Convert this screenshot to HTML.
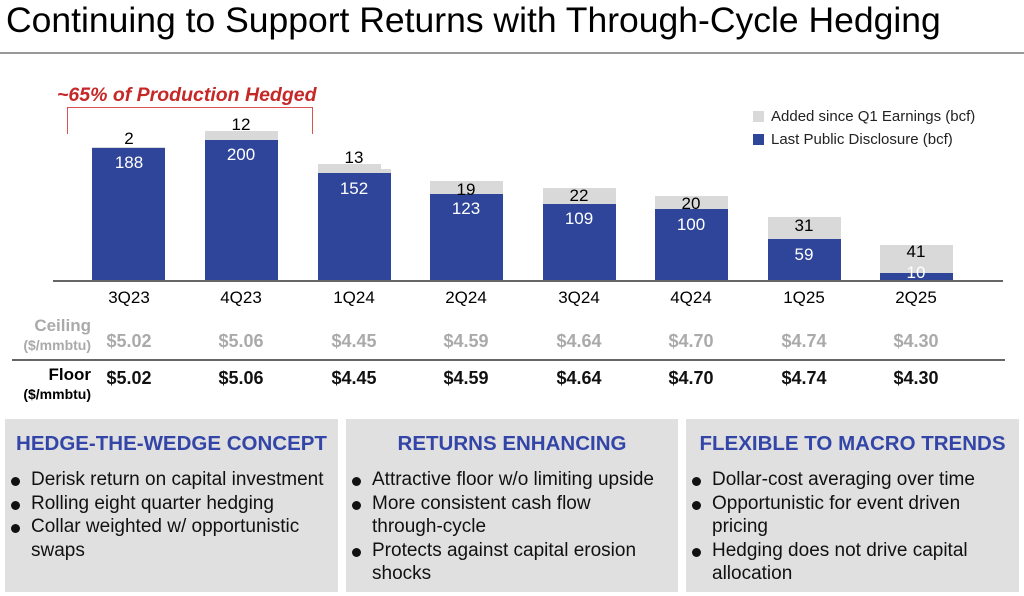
<!DOCTYPE html>
<html><head><meta charset="utf-8"><style>
body{margin:0;width:1024px;height:596px;background:#fff;font-family:"Liberation Sans",sans-serif;position:relative;overflow:hidden}
.a{position:absolute}
.bar{position:absolute;width:73px}
.b{background:#2f4599}.g{background:#d9d9d9}
.lab{position:absolute;width:100px;text-align:center;font-size:17px}
.box{position:absolute;top:419px;height:173px;background:#e0e0e0}
.box h3{margin:0;position:absolute;top:13px;left:0;right:0;text-align:center;color:#3346a8;font-size:20.5px;font-weight:bold;white-space:nowrap}
.box ul{position:absolute;top:49px;left:0;margin:0;padding:0 0 0 6px;list-style:none;font-size:19px;line-height:23.5px;color:#111}
.box li{padding-left:20px;position:relative}
.box li:before{content:"";position:absolute;left:0;top:9px;width:9px;height:9px;border-radius:50%;background:#111}
</style></head><body>
<div class="a" style="left:6px;top:0px;font-size:35.5px;white-space:nowrap">Continuing to Support Returns with Through-Cycle Hedging</div>
<div class="a" style="left:0;top:52px;width:1024px;height:1.5px;background:#999"></div>
<div class="a" style="left:57px;top:84px;font-size:19.5px;font-weight:bold;font-style:italic;color:#c62828">~65% of Production Hedged</div>
<div class="a" style="left:67px;top:107px;width:244px;height:26px;border:1.5px solid #d9534f;border-bottom:none"></div>
<div class="a" style="left:753px;top:111px;width:11px;height:11px;background:#d9d9d9"></div>
<div class="a" style="left:771px;top:108px;font-size:15px;color:#222">Added since Q1 Earnings (bcf)</div>
<div class="a" style="left:753px;top:134px;width:11px;height:11px;background:#2f4599"></div>
<div class="a" style="left:771px;top:131px;font-size:15px;color:#222">Last Public Disclosure (bcf)</div>
<div class="a" style="left:53px;top:280px;width:950px;height:1.5px;background:#666"></div>

<div class="bar g" style="left:92px;top:147px;height:1px"></div><div class="bar b" style="left:92px;top:148px;height:132px"></div>
<div class="bar g" style="left:205px;top:131px;height:9px"></div><div class="bar b" style="left:205px;top:140px;height:140px"></div>
<div class="bar g" style="left:318px;top:164px;height:9px;width:63px"></div><div class="bar g" style="left:318px;top:169px;height:4px"></div><div class="bar b" style="left:318px;top:173px;height:107px"></div>
<div class="bar g" style="left:430px;top:181px;height:13px"></div><div class="bar b" style="left:430px;top:194px;height:86px"></div>
<div class="bar g" style="left:543px;top:188px;height:16px"></div><div class="bar b" style="left:543px;top:204px;height:76px"></div>
<div class="bar g" style="left:655px;top:196px;height:13px"></div><div class="bar b" style="left:655px;top:209px;height:71px"></div>
<div class="bar g" style="left:768px;top:217px;height:22px"></div><div class="bar b" style="left:768px;top:239px;height:41px"></div>
<div class="bar g" style="left:880px;top:245px;height:28px"></div><div class="bar b" style="left:880px;top:273px;height:7px"></div>

<div class="lab" style="left:79px;top:129px">2</div><div class="lab" style="left:79px;top:153px;color:#fff">188</div>
<div class="lab" style="left:191px;top:115px">12</div><div class="lab" style="left:191px;top:145px;color:#fff">200</div>
<div class="lab" style="left:304px;top:148px">13</div><div class="lab" style="left:304px;top:179px;color:#fff">152</div>
<div class="lab" style="left:416px;top:180px">19</div><div class="lab" style="left:416px;top:199px;color:#fff">123</div>
<div class="lab" style="left:529px;top:186px">22</div><div class="lab" style="left:529px;top:209px;color:#fff">109</div>
<div class="lab" style="left:641px;top:194px">20</div><div class="lab" style="left:641px;top:215px;color:#fff">100</div>
<div class="lab" style="left:754px;top:216px">31</div><div class="lab" style="left:754px;top:245px;color:#fff">59</div>
<div class="lab" style="left:866px;top:242px">41</div><div class="lab" style="left:866px;top:263px;color:#fff">10</div>

<div class="lab" style="left:79px;top:288px">3Q23</div><div class="lab" style="left:191px;top:288px">4Q23</div><div class="lab" style="left:304px;top:288px">1Q24</div><div class="lab" style="left:416px;top:288px">2Q24</div><div class="lab" style="left:529px;top:288px">3Q24</div><div class="lab" style="left:641px;top:288px">4Q24</div><div class="lab" style="left:754px;top:288px">1Q25</div><div class="lab" style="left:866px;top:288px">2Q25</div>

<div class="a" style="left:0;width:91px;text-align:right;top:316px;font-size:17px;font-weight:bold;color:#aaa">Ceiling</div>
<div class="a" style="left:0;width:91px;text-align:right;top:337px;font-size:14px;font-weight:bold;color:#aaa">($/mmbtu)</div>
<div class="a" style="left:0;width:91px;text-align:right;top:365px;font-size:17px;font-weight:bold">Floor</div>
<div class="a" style="left:0;width:91px;text-align:right;top:386px;font-size:14px;font-weight:bold">($/mmbtu)</div>
<div class="a" style="left:12px;top:359px;width:993px;height:1.5px;background:#666"></div>
<div style="font-weight:bold;color:#aaa">
<div class="lab" style="left:79px;top:331px;font-size:18px">$5.02</div><div class="lab" style="left:191px;top:331px;font-size:18px">$5.06</div><div class="lab" style="left:304px;top:331px;font-size:18px">$4.45</div><div class="lab" style="left:416px;top:331px;font-size:18px">$4.59</div><div class="lab" style="left:529px;top:331px;font-size:18px">$4.64</div><div class="lab" style="left:641px;top:331px;font-size:18px">$4.70</div><div class="lab" style="left:754px;top:331px;font-size:18px">$4.74</div><div class="lab" style="left:866px;top:331px;font-size:18px">$4.30</div></div>
<div style="font-weight:bold;color:#111">
<div class="lab" style="left:79px;top:368px;font-size:18px">$5.02</div><div class="lab" style="left:191px;top:368px;font-size:18px">$5.06</div><div class="lab" style="left:304px;top:368px;font-size:18px">$4.45</div><div class="lab" style="left:416px;top:368px;font-size:18px">$4.59</div><div class="lab" style="left:529px;top:368px;font-size:18px">$4.64</div><div class="lab" style="left:641px;top:368px;font-size:18px">$4.70</div><div class="lab" style="left:754px;top:368px;font-size:18px">$4.74</div><div class="lab" style="left:866px;top:368px;font-size:18px">$4.30</div></div>

<div class="box" style="left:5px;width:333px"><h3>HEDGE-THE-WEDGE CONCEPT</h3><ul><li>Derisk return on capital investment</li><li>Rolling eight quarter hedging</li><li>Collar weighted w/ opportunistic<br>swaps</li></ul></div>
<div class="box" style="left:346px;width:332px"><h3>RETURNS ENHANCING</h3><ul><li>Attractive floor w/o limiting upside</li><li>More consistent cash flow<br>through-cycle</li><li>Protects against capital erosion<br>shocks</li></ul></div>
<div class="box" style="left:686px;width:333px"><h3>FLEXIBLE TO MACRO TRENDS</h3><ul><li>Dollar-cost averaging over time</li><li>Opportunistic for event driven<br>pricing</li><li>Hedging does not drive capital<br>allocation</li></ul></div>
</body></html>
